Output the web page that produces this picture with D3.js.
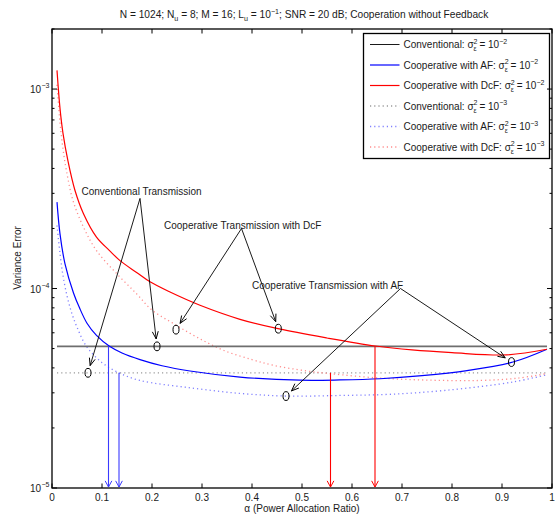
<!DOCTYPE html>
<html>
<head>
<meta charset="utf-8">
<script src="https://cdn.jsdelivr.net/npm/d3@7"></script>
<style>
  body { margin: 0; background: #fff; }
  text { font-family: "Liberation Sans", Arial, Helvetica, sans-serif; fill: #1a1a1a; }
</style>
</head>
<body>
<script>
// values
const afSolidAlpha = [0.01, 0.016, 0.026, 0.043, 0.055, 0.07, 0.089, 0.115, 0.14, 0.176, 0.22, 0.276, 0.376, 0.496, 0.576, 0.656, 0.74, 0.83, 0.922, 0.99];
const afSolidVal = [2.71e-4, 1.88e-4, 1.33e-4, 9.5e-5, 8.0e-5, 6.7e-5, 5.82e-5, 5.13e-5, 4.75e-5, 4.40e-5, 4.1e-5, 3.86e-5, 3.60e-5, 3.47e-5, 3.48e-5, 3.53e-5, 3.66e-5, 3.88e-5, 4.28e-5, 4.96e-5];

const dcfSolidAlpha = [0.01, 0.016, 0.022, 0.032, 0.046, 0.063, 0.089, 0.115, 0.136, 0.17, 0.196, 0.236, 0.296, 0.376, 0.452, 0.55, 0.647, 0.72, 0.8, 0.909, 0.99];
const dcfSolidVal = [1.24e-3, 8.0e-4, 6.0e-4, 4.35e-4, 3.10e-4, 2.37e-4, 1.81e-4, 1.55e-4, 1.38e-4, 1.2e-4, 1.08e-4, 9.6e-5, 8.24e-5, 7.01e-5, 6.29e-5, 5.65e-5, 5.15e-5, 4.92e-5, 4.77e-5, 4.65e-5, 4.96e-5];

const afDotAlpha = [0.01, 0.016, 0.022, 0.03, 0.039, 0.05, 0.069, 0.1, 0.134, 0.176, 0.276, 0.376, 0.469, 0.576, 0.676, 0.789, 0.922, 0.99];
const afDotVal = [2.07e-4, 1.5e-4, 1.16e-4, 9.2e-5, 7.6e-5, 6.4e-5, 5.13e-5, 4.25e-5, 3.78e-5, 3.46e-5, 3.18e-5, 2.98e-5, 2.89e-5, 2.91e-5, 2.95e-5, 3.09e-5, 3.40e-5, 3.70e-5];

const dcfDotAlpha = [0.01, 0.016, 0.022, 0.029, 0.042, 0.063, 0.089, 0.129, 0.169, 0.2, 0.243, 0.29, 0.343, 0.4, 0.443, 0.51, 0.558, 0.66, 0.76, 0.856, 0.93, 0.99];
const dcfDotVal = [1.05e-3, 6.8e-4, 5.0e-4, 3.88e-4, 2.76e-4, 2.03e-4, 1.55e-4, 1.19e-4, 9.42e-5, 7.8e-5, 6.67e-5, 5.7e-5, 4.90e-5, 4.4e-5, 4.12e-5, 3.86e-5, 3.74e-5, 3.55e-5, 3.47e-5, 3.46e-5, 3.55e-5, 3.75e-5];

const convAlpha = [0.01, 0.99];
const convSolidVal = [5.13e-5, 5.13e-5];
const convDotVal = [3.78e-5, 3.78e-5];

const xTicks = [0, 0.1, 0.2, 0.3, 0.4, 0.5, 0.6, 0.7, 0.8, 0.9, 1];
const yMajor = [1e-5, 1e-4, 1e-3];
const yExp = ['\u22125', '\u22124', '\u22123'];

// vertical arrows: alpha, start value
const blueDrops = [[0.113, 5.13e-5], [0.134, 3.78e-5]];
const redDrops = [[0.557, 3.78e-5], [0.646, 5.13e-5]];

// annotations: label, text anchor point, apex, targets (alpha, value)
const notes = [
  { label: 'Conventional Transmission', tx: 0.059, tv: 2.95e-4, apex: [0.176, 2.83e-4], targets: [[0.072, 3.78e-5], [0.21, 5.13e-5]] },
  { label: 'Cooperative Transmission with DcF', tx: 0.224, tv: 1.99e-4, apex: [0.379, 2.0e-4], targets: [[0.248, 6.22e-5], [0.4526, 6.29e-5]] },
  { label: 'Cooperative Transmission with AF', tx: 0.4, tv: 1.0e-4, apex: [0.697, 1.0e-4], targets: [[0.468, 2.89e-5], [0.919, 4.28e-5]] }
];

const W = 559, H = 517;
const svg = d3.select('body').append('svg').attr('width', W).attr('height', H);

const x = d3.scaleLinear().domain([0, 1]).range([52, 552]);
const y = d3.scaleLog().domain([1e-5, 2e-3]).range([488, 29]);

// rich text helper for sub/superscripts
function rich(sel, px, py, parts, anchor, size) {
  size = size || 10;
  const t = sel.append('text').attr('x', px).attr('y', py)
    .attr('font-size', size).attr('text-anchor', anchor || 'start');
  const off = { n: 0, sup: -4.5, sub: 3 };
  let cur = 0;
  parts.forEach(p => {
    const s = p[1] || 'n';
    const ts = t.append('tspan').text(p[0]).attr('dy', off[s] - cur);
    if (s !== 'n') ts.attr('font-size', size * 0.7);
    if (p[2]) ts.attr('dx', p[2]);
    cur = off[s];
  });
  return t;
}

// title
rich(svg, 304, 18, [['N = 1024; N'], ['u', 'sub'], [' = 8; M = 16; L'], ['u', 'sub'], [' = 10'], ['\u22121', 'sup'], ['; SNR = 20 dB; Cooperation without Feedback']], 'middle', 10.2);

// curves
const line = d3.line().x(d => x(d[0])).y(d => y(d[1])).curve(d3.curveCatmullRom.alpha(0.5));
const zip = (a, b) => a.map((v, i) => [v, b[i]]);

const series = [
  { a: convAlpha, v: convDotVal, color: '#9a9a9a', dash: '1.2,3', w: 1.3 },
  { a: afDotAlpha, v: afDotVal, color: '#8080ff', dash: '1.2,3', w: 1.3 },
  { a: dcfDotAlpha, v: dcfDotVal, color: '#ff8c8c', dash: '1.2,3', w: 1.3 },
  { a: convAlpha, v: convSolidVal, color: '#6e6e6e', dash: null, w: 1.9 },
  { a: afSolidAlpha, v: afSolidVal, color: '#0000ff', dash: null, w: 1.2 },
  { a: dcfSolidAlpha, v: dcfSolidVal, color: '#ff0000', dash: null, w: 1.2 }
];
series.forEach(s => {
  svg.append('path').attr('d', line(zip(s.a, s.v)))
    .attr('fill', 'none').attr('stroke', s.color).attr('stroke-width', s.w)
    .attr('stroke-dasharray', s.dash);
});

// open arrow head
function head(g, tipX, tipY, fromX, fromY, color, len, ang) {
  const a = Math.atan2(tipY - fromY, tipX - fromX);
  const p = s => [tipX - len * Math.cos(a + s * ang), tipY - len * Math.sin(a + s * ang)];
  const l = p(1), r = p(-1);
  g.append('path').attr('d', `M${l[0]},${l[1]}L${tipX},${tipY}L${r[0]},${r[1]}`)
    .attr('fill', 'none').attr('stroke', color).attr('stroke-width', 1);
}

// vertical drop arrows
[[blueDrops, '#3a3aff'], [redDrops, '#ff0000']].forEach(([arr, col]) => {
  arr.forEach(d => {
    const xx = x(d[0]), y0 = y(d[1]), y1 = y(1e-5) - 1;
    svg.append('line').attr('x1', xx).attr('x2', xx).attr('y1', y0).attr('y2', y1)
      .attr('stroke', col).attr('stroke-width', 1.1);
    head(svg, xx, y1, xx, y0, col, 7, 0.5);
  });
});

// annotations
notes.forEach(n => {
  svg.append('text').attr('x', x(n.tx)).attr('y', y(n.tv)).attr('font-size', 10).text(n.label);
  const ax = x(n.apex[0]), ay = y(n.apex[1]);
  n.targets.forEach(t => {
    const cx = x(t[0]), cy = y(t[1]);
    const dx = ax - cx, dy = ay - cy, L = Math.hypot(dx, dy);
    const tipX = cx + dx / L * 7.5, tipY = cy + dy / L * 7.5;
    svg.append('line').attr('x1', ax).attr('y1', ay).attr('x2', tipX).attr('y2', tipY)
      .attr('stroke', '#000').attr('stroke-width', 0.9);
    head(svg, tipX, tipY, ax, ay, '#000', 8, 0.38);
    svg.append('ellipse').attr('cx', cx).attr('cy', cy).attr('rx', 3).attr('ry', 4.4)
      .attr('fill', 'none').attr('stroke', '#000').attr('stroke-width', 1);
  });
});

// legend
const leg = svg.append('g');
leg.append('rect').attr('x', 363.5).attr('y', 33.5).attr('width', 186).attr('height', 125)
  .attr('fill', '#fff').attr('stroke', '#000').attr('stroke-width', 1.3);
const legNames = ['Conventional: ', 'Cooperative with AF: ', 'Cooperative with DcF: ', 'Conventional: ', 'Cooperative with AF: ', 'Cooperative with DcF: '];
const legExp = ['\u22122', '\u22122', '\u22122', '\u22123', '\u22123', '\u22123'];
const legStyle = [
  ['#000', null, 0.9], ['#0000ff', null, 1.2], ['#ff0000', null, 1.2],
  ['#9a9a9a', '1.2,3', 1.3], ['#8080ff', '1.2,3', 1.3], ['#ff8c8c', '1.2,3', 1.3]
];
legNames.forEach((nm, i) => {
  const cy = 44.5 + i * 20.5;
  leg.append('line').attr('x1', 370).attr('x2', 399.5).attr('y1', cy).attr('y2', cy)
    .attr('stroke', legStyle[i][0]).attr('stroke-dasharray', legStyle[i][1]).attr('stroke-width', legStyle[i][2]);
  rich(leg, 403.5, cy + 3.5, [[nm + '\u03c3'], ['2', 'sup'], ['\u03b5', 'sub', -4], [' = 10'], [legExp[i], 'sup']], 'start', 10);
});

// axes frame and ticks
const ax = svg.append('g').attr('stroke', '#000').attr('fill', 'none');
ax.append('rect').attr('x', x(0)).attr('y', y(2e-3)).attr('width', x(1) - x(0)).attr('height', y(1e-5) - y(2e-3))
  .attr('stroke-width', 1.3);
xTicks.forEach(t => {
  ax.append('line').attr('x1', x(t)).attr('x2', x(t)).attr('y1', y(1e-5)).attr('y2', y(1e-5) - 4.5);
  ax.append('line').attr('x1', x(t)).attr('x2', x(t)).attr('y1', y(2e-3)).attr('y2', y(2e-3) + 4.5);
});
const yMinor = [];
[1e-5, 1e-4, 1e-3].forEach(b => { for (let k = 2; k <= 9; k++) if (k * b <= 2e-3) yMinor.push(k * b); });
yMajor.forEach(v => {
  ax.append('line').attr('x1', x(0)).attr('x2', x(0) + 5).attr('y1', y(v)).attr('y2', y(v));
  ax.append('line').attr('x1', x(1)).attr('x2', x(1) - 5).attr('y1', y(v)).attr('y2', y(v));
});
yMinor.forEach(v => {
  ax.append('line').attr('x1', x(0)).attr('x2', x(0) + 2.5).attr('y1', y(v)).attr('y2', y(v));
  ax.append('line').attr('x1', x(1)).attr('x2', x(1) - 2.5).attr('y1', y(v)).attr('y2', y(v));
});

// tick labels
svg.selectAll('.xt').data(xTicks).enter().append('text')
  .attr('x', d => x(d)).attr('y', 501).attr('text-anchor', 'middle').attr('font-size', 10)
  .text(d => d3.format('~g')(d));
yMajor.forEach((v, i) => {
  svg.append('text').attr('x', 41).attr('y', y(v) + 4).attr('text-anchor', 'end').attr('font-size', 10).text('10');
  svg.append('text').attr('x', 41.5).attr('y', y(v) - 1).attr('font-size', 7).text(yExp[i]);
});

// axis labels
svg.append('text').attr('x', 302).attr('y', 512).attr('text-anchor', 'middle').attr('font-size', 10)
  .text('\u03b1 (Power Allocation Ratio)');
svg.append('text').attr('transform', 'translate(21,258) rotate(-90)').attr('text-anchor', 'middle')
  .attr('font-size', 10).text('Variance Error');
</script>
</body>
</html>
